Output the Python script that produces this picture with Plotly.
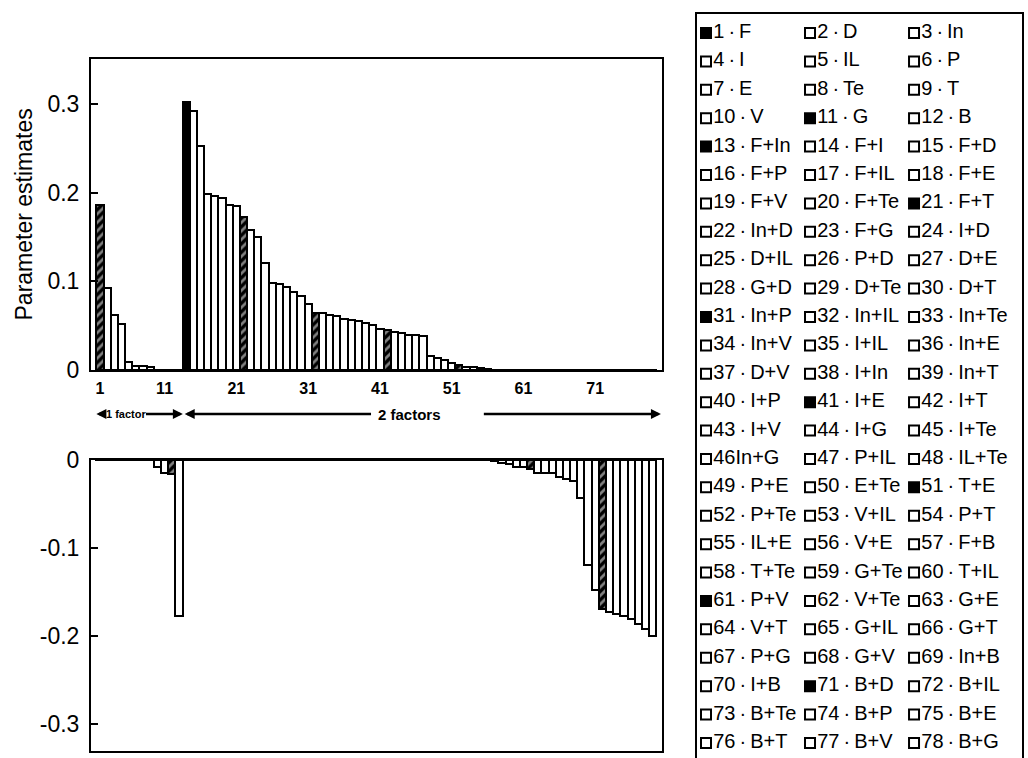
import plotly.graph_objects as go

# ---------------- data ----------------
param_index = list(range(1, 79))
estimates = [
    0.186, 0.092, 0.062, 0.052, 0.0094, 0.0045, 0.004, 0.0035, -0.0076, -0.015, -0.016, -0.178,
    0.302, 0.292, 0.2525, 0.198, 0.196, 0.194, 0.186, 0.185, 0.172, 0.158, 0.150, 0.121,
    0.0985, 0.097, 0.094, 0.088, 0.083, 0.074, 0.064, 0.0646, 0.062, 0.061, 0.057, 0.0564,
    0.0556, 0.0533, 0.0507, 0.046, 0.045, 0.0432, 0.0421, 0.0395, 0.0395, 0.0383, 0.0158, 0.0132,
    0.0113, 0.0083, 0.0056, 0.0038, 0.003, 0.0019, 0.0015, -0.001, -0.0038, -0.0045, -0.0075, -0.008,
    -0.0106, -0.0143, -0.0143, -0.0151, -0.0189, -0.0219, -0.0234, -0.0434, -0.119, -0.148, -0.169, -0.173,
    -0.1755, -0.1774, -0.181, -0.187, -0.1925, -0.200,
]
hatched_ids = [1, 11, 21, 31, 41, 51, 61, 71]
solid_ids = [13]

x_tick_labels = ["1", "11", "21", "31", "41", "51", "61", "71"]
top_y_ticks = [0, 0.1, 0.2, 0.3]
top_y_labels = ["0", "0.1", "0.2", "0.3"]
bottom_y_ticks = [-0.3, -0.2, -0.1, 0]
bottom_y_labels = ["-0.3", "-0.2", "-0.1", "0"]

legend_numbers = list(range(1, 79))
legend_names = [
    "F", "D", "In", "I", "IL", "P", "E", "Te", "T", "V", "G", "B",
    "F+In", "F+I", "F+D", "F+P", "F+IL", "F+E", "F+V", "F+Te", "F+T",
    "In+D", "F+G", "I+D", "D+IL", "P+D", "D+E", "G+D", "D+Te", "D+T",
    "In+P", "In+IL", "In+Te", "In+V", "I+IL", "In+E", "D+V", "I+In", "In+T",
    "I+P", "I+E", "I+T", "I+V", "I+G", "I+Te", "In+G", "P+IL", "IL+Te",
    "P+E", "E+Te", "T+E", "P+Te", "V+IL", "P+T", "IL+E", "V+E", "F+B",
    "T+Te", "G+Te", "T+IL", "P+V", "V+Te", "G+E", "V+T", "G+IL", "G+T",
    "P+G", "G+V", "In+B", "I+B", "B+D", "B+IL", "B+Te", "B+P", "B+E",
    "B+T", "B+V", "B+G",
]
legend_no_dot = [46]          # printed as "46In+G" in the original
legend_filled = [1, 11, 13, 21, 31, 41, 51, 61, 71]

# ---------------- layout helpers ----------------
W, H = 1028, 758
def xdom(a, b):
    return [a / W, b / W]
def ydom(top, bottom):
    return [1 - bottom / H, 1 - top / H]

X_RANGE = [-0.25, 79.3]
TICK_POS = [1, 10, 20, 30, 40, 50, 60, 70]

bar_colors = ["black" if (i in hatched_ids or i in solid_ids) else "white" for i in param_index]
bar_shapes = ["/" if i in hatched_ids else "" for i in param_index]

def bar_trace(xa, ya):
    return go.Bar(
        x=param_index, y=estimates, xaxis=xa, yaxis=ya,
        marker=dict(
            color=bar_colors,
            line=dict(color="black", width=2),
            pattern=dict(shape=bar_shapes, fgcolor="white", fillmode="overlay",
                         size=6, solidity=0.45),
        ),
        showlegend=False, hoverinfo="x+y",
    )

fig = go.Figure()
fig.add_trace(bar_trace("x", "y"))
fig.add_trace(bar_trace("x2", "y2"))

# legend table as a scatter on its own axes
SEP = "\u2009\u00b7\u2009"
legend_text = [f"{n}{name}" if n in legend_no_dot else f"{n}{SEP}{name}"
               for n, name in zip(legend_numbers, legend_names)]
ncol = 3
leg_x = [k % ncol for k in range(len(legend_text))]
leg_y = [k // ncol for k in range(len(legend_text))]
leg_sym = ["square" if n in legend_filled else "square-open" for n in legend_numbers]
fig.add_trace(go.Scatter(
    x=leg_x, y=leg_y, xaxis="x3", yaxis="y3", mode="markers+text",
    text=legend_text, textposition="middle right",
    textfont=dict(family="Liberation Sans, Arial", size=20, color="black"),
    marker=dict(symbol=leg_sym, size=10, color="black", line=dict(color="black", width=2)),
    showlegend=False, hoverinfo="text", cliponaxis=False,
))

axis_line = dict(showline=True, linecolor="black", linewidth=2, mirror=True,
                 showgrid=False, zeroline=False, automargin=False)
tick_font = dict(family="Liberation Sans, Arial", size=23, color="black")

top_dom_x = xdom(91, 662)
fig.update_layout(
    width=W, height=H,
    margin=dict(l=0, r=0, t=0, b=0, pad=0, autoexpand=False),
    paper_bgcolor="white", plot_bgcolor="white",
    bargap=0,
    xaxis=dict(domain=top_dom_x, range=X_RANGE, anchor="y", **axis_line,
               tickmode="array", tickvals=TICK_POS, ticktext=x_tick_labels, ticks="",
               tickfont=dict(family="Liberation Sans, Arial", size=16, color="black", weight="bold"),
               ticklabelstandoff=3),
    yaxis=dict(domain=ydom(59, 370), range=[0, 0.3506], anchor="x", **axis_line,
               tickmode="array", tickvals=top_y_ticks, ticktext=top_y_labels,
               ticks="inside", ticklen=7, tickwidth=1.5, tickcolor="black",
               tickfont=tick_font, ticklabelstandoff=5),
    xaxis2=dict(domain=top_dom_x, range=X_RANGE, anchor="y2", **axis_line,
                showticklabels=False, ticks=""),
    yaxis2=dict(domain=ydom(460, 751), range=[-0.331, 0], anchor="x2", **axis_line,
                tickmode="array", tickvals=bottom_y_ticks, ticktext=bottom_y_labels,
                ticks="inside", ticklen=7, tickwidth=1.5, tickcolor="black",
                tickfont=tick_font, ticklabelstandoff=5),
    xaxis3=dict(domain=xdom(697, 1022), range=[-0.0865, 3.038], anchor="y3", side="top",
                showline=True, linecolor="black", linewidth=2, showgrid=False, zeroline=False,
                showticklabels=False, ticks="", automargin=False),
    yaxis3=dict(domain=ydom(14, 758), range=[25.53, -0.669], anchor="x3",
                showline=True, linecolor="black", linewidth=2, mirror=True,
                showgrid=False, zeroline=False, showticklabels=False, ticks="",
                automargin=False),
)

# y-axis title
fig.add_annotation(text="Parameter estimates", textangle=-90, xref="paper", yref="y domain",
                   x=23 / W, y=0.5, showarrow=False, xanchor="center", yanchor="middle",
                   font=dict(family="Liberation Sans, Arial", size=23, color="black"))

# factor group arrows below top panel
ARROW_Y = -0.1415
grp_font = dict(family="Liberation Sans, Arial", color="black", weight="bold")
arrows = [(1.4, 0.5), (7.2, 12.55), (38.97, 12.8), (54.27, 79.15)]
for tail, head in arrows:
    fig.add_annotation(text="", xref="x", yref="y domain", axref="x", ayref="y domain",
                       x=head, y=ARROW_Y, ax=tail, ay=ARROW_Y,
                       showarrow=True, arrowhead=2, arrowsize=0.8, arrowwidth=2.5,
                       arrowcolor="black", standoff=0, startstandoff=0)
fig.add_annotation(text="1 factor", xref="x", yref="y domain", x=4.6, y=ARROW_Y,
                   xanchor="center", yanchor="middle",
                   showarrow=False, font=dict(size=11, **grp_font))
fig.add_annotation(text="2 factors", xref="x", yref="y domain", x=44.1, y=ARROW_Y,
                   xanchor="center", yanchor="middle",
                   showarrow=False, font=dict(size=15, **grp_font))

fig.write_html("out.html", config={"displayModeBar": False},
               post_script="document.body.style.margin='0';")
